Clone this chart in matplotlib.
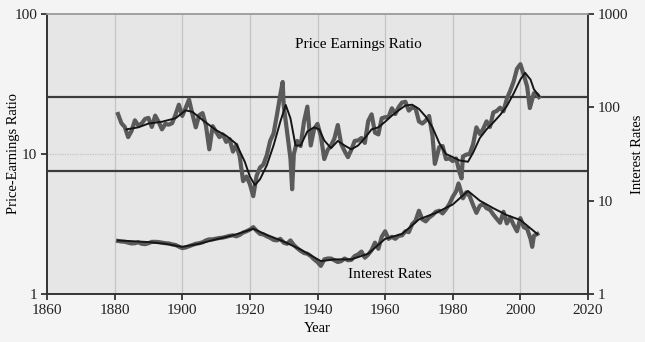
import matplotlib
matplotlib.use("Agg")
import matplotlib.pyplot as plt

# ---- data ----
pe_years = [1881, 1882, 1883, 1884, 1885, 1886, 1887, 1888, 1889, 1890,
            1891, 1892, 1893, 1894, 1895, 1896, 1897, 1898, 1899, 1900,
            1901, 1902, 1903, 1904, 1905, 1906, 1907, 1908, 1909, 1910,
            1911, 1912, 1913, 1914, 1915, 1916, 1917, 1918, 1919, 1920,
            1921, 1922, 1923, 1924, 1925, 1926, 1927, 1928, 1929, 1929.7,
            1930, 1931, 1932, 1932.5, 1933, 1934, 1935, 1936, 1937, 1938,
            1939, 1940, 1941, 1942, 1943, 1944, 1945, 1946, 1947, 1948,
            1949, 1950, 1951, 1952, 1953, 1954, 1955, 1956, 1957, 1958,
            1959, 1960, 1961, 1962, 1963, 1964, 1965, 1966, 1967, 1968,
            1969, 1970, 1971, 1972, 1973, 1974, 1974.7, 1975, 1976, 1977,
            1978, 1979, 1980, 1981, 1982, 1982.6, 1983, 1984, 1985, 1986,
            1987, 1988, 1989, 1990, 1991, 1992, 1993, 1994, 1995, 1996,
            1997, 1998, 1999, 2000, 2001, 2002, 2002.8, 2004, 2005, 2005.5]
pe_values = [19.3, 16.6, 15.6, 13.2, 14.6, 17.4, 16.0, 16.5, 17.8, 18.1,
             15.6, 18.8, 17.0, 15.0, 16.4, 16.2, 16.6, 19.1, 22.5, 18.7,
             21.3, 24.5, 19.3, 15.5, 18.9, 19.6, 16.0, 10.8, 15.8, 14.4,
             13.2, 13.8, 12.2, 12.8, 10.4, 11.6, 9.6, 6.4, 6.9, 6.1,
             5.0, 7.0, 8.0, 8.4, 9.8, 12.4, 14.0, 19.0, 26.5, 32.7,
             22.3, 14.5, 9.3, 5.6, 10.0, 12.4, 11.4, 17.0, 21.8, 11.5,
             15.1, 16.4, 13.4, 9.2, 10.7, 11.5, 12.9, 16.1, 11.8, 10.5,
             9.5, 10.7, 12.4, 12.5, 13.0, 12.0, 17.2, 19.2, 14.2, 13.8,
             18.0, 18.3, 18.4, 21.2, 19.3, 21.6, 23.3, 23.6, 20.4, 21.5,
             21.2, 17.1, 16.5, 17.3, 18.7, 13.5, 8.5, 9.0, 11.2, 11.4,
             9.2, 9.3, 8.9, 9.3, 7.4, 6.7, 9.6, 9.9, 10.0, 11.7,
             15.5, 13.9, 15.1, 17.1, 15.6, 19.8, 20.3, 21.4, 20.2, 24.8,
             28.3, 32.9, 40.6, 43.8, 36.9, 30.3, 21.3, 27.2, 26.6, 25.5]

pe_smooth_years = [1883.5, 1887, 1890, 1894, 1898, 1901, 1903, 1906, 1910, 1913,
                   1916, 1918.5, 1920, 1921.5, 1923, 1925, 1927, 1929, 1930.6, 1932,
                   1933.5, 1935, 1937, 1939, 1940.5, 1942, 1944, 1946, 1948, 1950,
                   1952, 1954, 1956, 1958, 1960, 1962, 1964, 1966, 1968, 1970,
                   1972, 1974, 1976, 1978, 1980, 1982, 1984.5, 1986, 1988, 1990,
                   1992, 1994, 1996, 1998, 2000, 2001.4, 2003, 2004, 2005.5]
pe_smooth = [15.0, 15.5, 16.5, 17.0, 18.0, 20.5, 20.0, 17.5, 14.8, 13.5,
             11.8, 8.8, 6.9, 6.0, 6.6, 8.3, 11.5, 17.0, 22.4, 18.0,
             11.5, 11.5, 14.5, 15.5, 15.0, 12.5, 11.0, 12.4, 11.5, 10.8,
             11.5, 13.0, 15.0, 15.5, 17.0, 18.8, 20.5, 22.2, 22.5, 21.0,
             18.5, 15.5, 12.0, 10.0, 9.5, 9.0, 8.8, 10.2, 13.0, 15.0,
             16.8, 19.0, 22.0, 27.0, 34.0, 38.0, 34.0, 29.0, 26.0]

ir_years = [1881, 1882, 1883, 1884, 1885, 1886, 1887, 1888, 1889, 1890,
            1891, 1892, 1893, 1894, 1895, 1896, 1897, 1898, 1899, 1900,
            1901, 1902, 1903, 1904, 1905, 1906, 1907, 1908, 1909, 1910,
            1911, 1912, 1913, 1914, 1915, 1916, 1917, 1918, 1919, 1920,
            1921, 1922, 1923, 1924, 1925, 1926, 1927, 1928, 1929, 1930,
            1931, 1932, 1933, 1934, 1935, 1936, 1937, 1938, 1939, 1940,
            1941, 1942, 1943, 1944, 1945, 1946, 1947, 1948, 1949, 1950,
            1951, 1952, 1953, 1954, 1955, 1956, 1957, 1958, 1959, 1960,
            1961, 1962, 1963, 1964, 1965, 1966, 1967, 1968, 1969, 1970,
            1971, 1972, 1973, 1974, 1975, 1976, 1977, 1978, 1979, 1980,
            1981, 1981.7, 1982, 1983, 1984, 1985, 1986, 1987, 1988, 1989,
            1990, 1991, 1992, 1993, 1994, 1995, 1996, 1997, 1998, 1999,
            2000, 2001, 2002, 2003, 2003.5, 2004, 2005]
ir_values = [3.70, 3.65, 3.63, 3.55, 3.48, 3.50, 3.58, 3.45, 3.42, 3.50,
             3.62, 3.62, 3.60, 3.55, 3.50, 3.48, 3.40, 3.35, 3.22, 3.10,
             3.15, 3.25, 3.35, 3.45, 3.50, 3.58, 3.75, 3.85, 3.85, 3.92,
             3.98, 4.02, 4.10, 4.20, 4.25, 4.15, 4.30, 4.55, 4.70, 4.90,
             5.20, 4.75, 4.40, 4.35, 4.15, 4.00, 3.80, 3.75, 3.90, 3.55,
             3.45, 3.75, 3.35, 3.10, 2.90, 2.75, 2.70, 2.55, 2.35, 2.20,
             2.00, 2.35, 2.40, 2.40, 2.30, 2.20, 2.25, 2.40, 2.30, 2.32,
             2.55, 2.65, 2.85, 2.45, 2.65, 2.95, 3.55, 3.05, 4.10, 4.70,
             3.90, 4.10, 3.90, 4.20, 4.25, 4.70, 4.60, 5.60, 6.10, 7.80,
             6.30, 6.00, 6.60, 7.00, 7.60, 7.80, 7.30, 8.10, 9.20, 11.0,
             12.6, 15.3, 14.2, 10.6, 12.3, 11.2, 9.0, 7.4, 8.8, 9.2,
             8.3, 8.0, 7.1, 6.4, 5.8, 7.6, 5.7, 6.6, 5.5, 4.7,
             6.5, 5.2, 5.0, 3.9, 3.2, 4.2, 4.4]

ir_smooth_years = [1881, 1890, 1895, 1900, 1905, 1910, 1915, 1921, 1925, 1930,
                   1935, 1941, 1945, 1950, 1955, 1960, 1965, 1970, 1975, 1980,
                   1984.5, 1988, 1992, 1996, 2000, 2005]
ir_smooth = [3.75, 3.60, 3.45, 3.20, 3.45, 3.85, 4.25, 5.00, 4.30, 3.65,
             3.00, 2.25, 2.35, 2.35, 2.70, 3.90, 4.40, 6.30, 7.40, 9.10,
             12.7, 10.0, 8.3, 7.0, 6.2, 4.4]

x_ticks = [1860, 1880, 1900, 1920, 1940, 1960, 1980, 2000, 2020]
pe_ticks = [1, 10, 100]
ir_ticks = [1, 10, 100, 1000]
band_levels = [25.5, 7.5]

# ---- styling ----
plt.rcParams['font.family'] = ['Liberation Serif', 'DejaVu Serif']
fig = plt.figure(figsize=(6.45, 3.42), dpi=100, facecolor='#f4f4f4')
ax = fig.add_axes([47/645, 1-294/342, (588-47)/645, (294-14)/342])
ax.set_facecolor('#e6e6e6')
ax2 = ax.twinx()

ax.set_yscale('log')
ax.set_xlim(1860, 2020)
ax.set_ylim(1, 100)
ax2.set_yscale('log')
ax2.set_ylim(1, 1000)

# grid
for xv in x_ticks[1:-1]:
    ax.axvline(xv, color='#c4c4c4', lw=0.9, zorder=0.5)
ax.axhline(10, color='#c4c4c4', lw=0.9, ls=(0, (1, 1)), zorder=0.5)

# band lines
for b in band_levels:
    ax.axhline(b, color='#3c3c3c', lw=1.6, zorder=3)

# series
ax.plot(pe_years, pe_values, color='#5a5a5a', lw=3.0, solid_joinstyle='round', zorder=4)
ax.plot(pe_smooth_years, pe_smooth, color='#151515', lw=1.4, zorder=5)
ax2.plot(ir_years, ir_values, color='#5a5a5a', lw=3.0, solid_joinstyle='round', zorder=4)
ax2.plot(ir_smooth_years, ir_smooth, color='#151515', lw=1.4, zorder=5)

# ticks
ax.set_xticks(x_ticks)
ax.set_xticklabels([str(t) for t in x_ticks], fontsize=11)
ax.set_yticks(pe_ticks)
ax.set_yticklabels([str(t) for t in pe_ticks], fontsize=11)
ax.yaxis.set_minor_locator(matplotlib.ticker.NullLocator())
ax2.set_yticks(ir_ticks)
ax2.set_yticklabels([str(t) for t in ir_ticks], fontsize=11)
ax2.yaxis.set_minor_locator(matplotlib.ticker.NullLocator())
ax.tick_params(axis='both', direction='out', length=4, width=1.2, colors='#222222', pad=3)
ax2.tick_params(axis='y', direction='out', length=4, width=1.2, colors='#222222', pad=3)

for a in (ax, ax2):
    a.spines['top'].set_color('#a0a0a0')
    a.spines['bottom'].set_color('#333333')
    a.spines['left'].set_color('#333333')
    a.spines['right'].set_color('#333333')
    for s in a.spines.values():
        s.set_linewidth(1.2)
ax2.patch.set_visible(False)

ax.set_xlabel('Year', fontsize=10.5, va='center')
ax.xaxis.set_label_coords(0.5, -0.122)
ax.set_ylabel('Price-Earnings Ratio', fontsize=10.5, va='center')
ax.yaxis.set_label_coords(-0.061, 0.5)
ax2.set_ylabel('Interest Rates', fontsize=10.5, va='center', rotation=90)
ax2.yaxis.set_label_coords(1.092, 0.5)

ax.text(1952, 61, 'Price Earnings Ratio', fontsize=11, ha='center', va='center', zorder=6)
ax2.text(1961.5, 1.62, 'Interest Rates', fontsize=11, ha='center', va='center', zorder=6)

fig.savefig('out.png', dpi=100, facecolor=fig.get_facecolor())
